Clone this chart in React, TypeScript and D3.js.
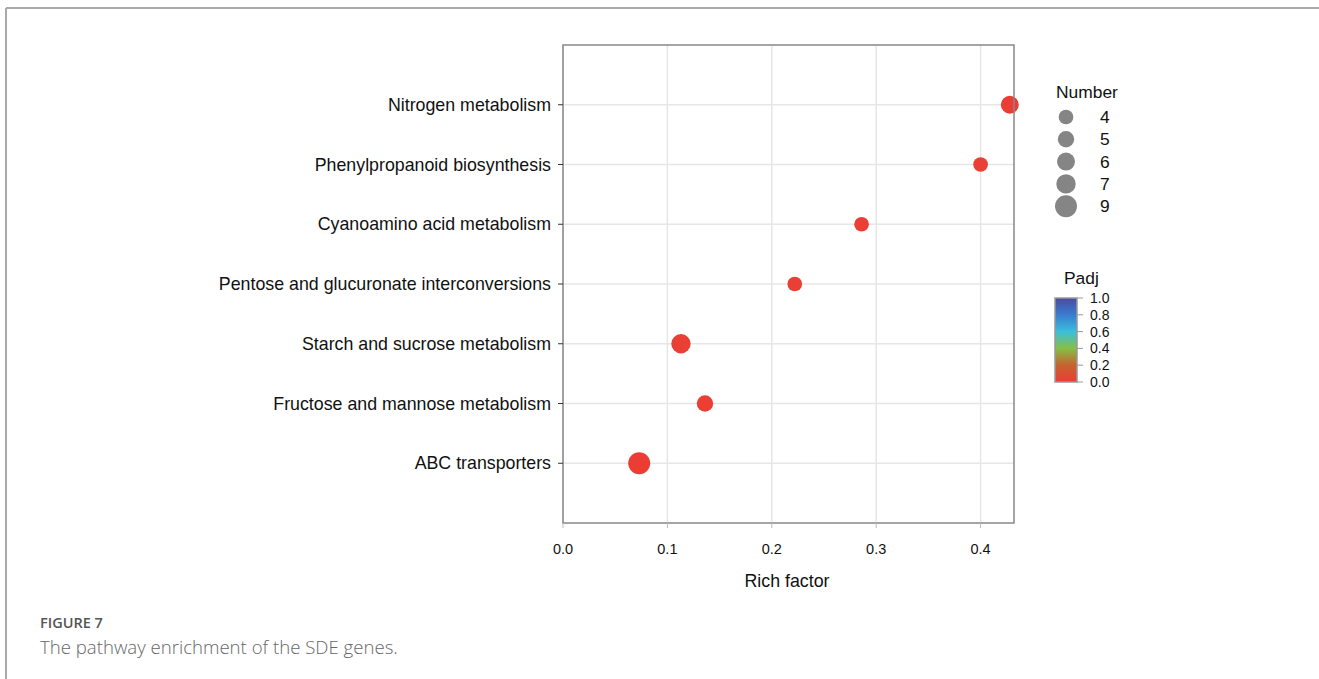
import React from 'react';
import * as d3 from 'd3';

// pathway enrichment data
const pathways = [
  'Nitrogen metabolism',
  'Phenylpropanoid biosynthesis',
  'Cyanoamino acid metabolism',
  'Pentose and glucuronate interconversions',
  'Starch and sucrose metabolism',
  'Fructose and mannose metabolism',
  'ABC transporters',
];
const richFactor = [0.428, 0.4, 0.286, 0.222, 0.113, 0.136, 0.073];
const geneNumber = [6, 4, 4, 4, 7, 5, 9];
const padj = [0.01, 0.02, 0.02, 0.02, 0.02, 0.02, 0.01];

const xTicks = [0, 0.1, 0.2, 0.3, 0.4];
const sizeBreaks = [4, 5, 6, 7, 9];
const padjTicks = [0, 0.2, 0.4, 0.6, 0.8, 1.0];
const padjColors = ['#ee3b34', '#c4632f', '#86bf45', '#3bbfdc', '#3a7ccf', '#4b4aa0'];

const font = '"Liberation Sans", Arial, sans-serif';

export default function App() {
  const left = 563, right = 1014, top = 45, bottom = 523;

  const x = d3.scaleLinear().domain([0, 0.432]).range([left, right]);
  const y = d3.scalePoint().domain(pathways).range([top, bottom]).padding(1);
  const r = d3.scaleSqrt().domain([0, 9]).range([0, 11]);
  const color = d3.scaleLinear<string>().domain(padjTicks).range(padjColors);

  const barTop = 298, barBottom = 382, barLeft = 1055, barW = 22;
  const yBar = d3.scaleLinear().domain([0, 1]).range([barBottom, barTop]);

  return (
    <svg width={1319} height={679} style={{ position: 'absolute', left: 0, top: 0 }}>
      <rect width={1319} height={679} fill="#fff" />
      {/* figure frame */}
      <line x1={6} x2={1319} y1={8} y2={8} stroke="#aaa" strokeWidth={2} />
      <line x1={6} x2={6} y1={8} y2={679} stroke="#aaa" strokeWidth={2} />

      {/* grid */}
      {xTicks.map(t => (
        <line key={'gx' + t} x1={x(t)} x2={x(t)} y1={top} y2={bottom} stroke="#e6e6e6" strokeWidth={1.5} />
      ))}
      {pathways.map(p => (
        <line key={'gy' + p} x1={left} x2={right} y1={y(p)} y2={y(p)} stroke="#e6e6e6" strokeWidth={1.5} />
      ))}

      {/* points */}
      {pathways.map((p, i) => (
        <circle key={p} cx={x(richFactor[i])} cy={y(p)} r={r(geneNumber[i])} fill={color(padj[i])} />
      ))}

      <rect x={left} y={top} width={right - left} height={bottom - top} fill="none" stroke="#888" strokeWidth={1.5} />

      {/* y axis */}
      {pathways.map(p => (
        <g key={'yl' + p}>
          <line x1={left - 5} x2={left} y1={y(p)} y2={y(p)} stroke="#333" />
          <text x={left - 12} y={y(p)} dy="0.35em" textAnchor="end" fontFamily={font} fontSize={17.8} fill="#111">{p}</text>
        </g>
      ))}

      {/* x axis */}
      {xTicks.map(t => (
        <g key={'xl' + t}>
          <line x1={x(t)} x2={x(t)} y1={bottom} y2={bottom + 5} stroke="#bbb" />
          <text x={x(t)} y={549} dy="0.35em" textAnchor="middle" fontFamily={font} fontSize={14.5} fill="#111">{d3.format('.1f')(t)}</text>
        </g>
      ))}
      <text x={787} y={581} dy="0.35em" textAnchor="middle" fontFamily={font} fontSize={17.8} fill="#111">Rich factor</text>

      {/* size legend */}
      <text x={1056} y={92} dy="0.35em" fontFamily={font} fontSize={17.4} fill="#111">Number</text>
      {sizeBreaks.map((n, i) => {
        const cy = 117 + i * 22.3;
        return (
          <g key={'sl' + n}>
            <circle cx={1066} cy={cy} r={r(n)} fill="#858585" />
            <text x={1100} y={cy} dy="0.35em" fontFamily={font} fontSize={17.4} fill="#111">{n}</text>
          </g>
        );
      })}

      {/* colour legend */}
      <defs>
        <linearGradient id="padjGrad" x1="0" x2="0" y1="1" y2="0">
          {padjTicks.map((t, i) => (
            <stop key={'st' + t} offset={t} stopColor={padjColors[i]} />
          ))}
        </linearGradient>
      </defs>
      <text x={1064} y={278} dy="0.35em" fontFamily={font} fontSize={17.4} fill="#111">Padj</text>
      <rect x={barLeft} y={barTop} width={barW} height={barBottom - barTop} fill="url(#padjGrad)" stroke="#999" strokeWidth={1.5} />
      {padjTicks.map(t => (
        <g key={'pt' + t}>
          <line x1={barLeft + barW} x2={barLeft + barW + 6} y1={yBar(t)} y2={yBar(t)} stroke="#999" />
          <text x={1090} y={yBar(t)} dy="0.35em" fontFamily={font} fontSize={14} fill="#111">{d3.format('.1f')(t)}</text>
        </g>
      ))}

      {/* caption */}
      <text x={40} y={623} dy="0.35em" fontFamily='"Open Sans", sans-serif' fontSize={14.5} fontWeight={600} fill="#555">FIGURE 7</text>
      <text x={40} y={647} dy="0.35em" fontFamily='"Open Sans", sans-serif' fontSize={18.6} fontWeight={300} fill="#666">The pathway enrichment of the SDE genes.</text>
    </svg>
  );
}
